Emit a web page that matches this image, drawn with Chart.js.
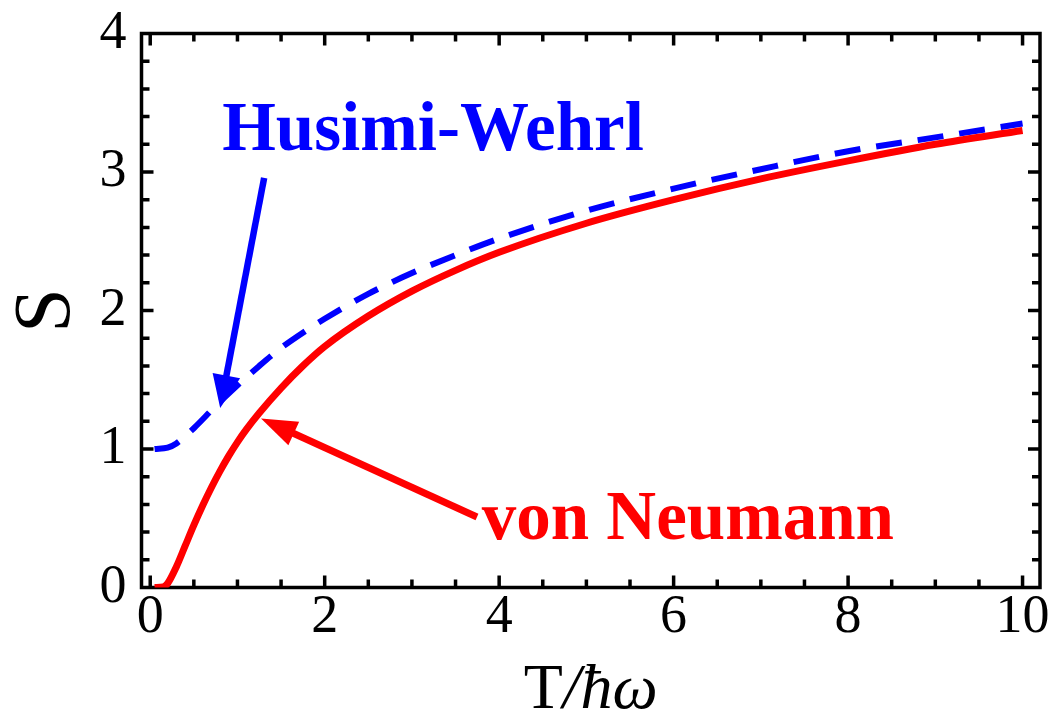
<!DOCTYPE html>
<html><head><meta charset="utf-8">
<script src="https://cdn.jsdelivr.net/npm/chart.js@4.4.1/dist/chart.umd.min.js"></script>
<style>html,body{margin:0;padding:0;background:#fff;}#wrap{width:1054px;height:716px;}</style>
</head><body><div id="wrap"><canvas id="c" width="1054" height="716"></canvas></div>
<script>
// Data
const vonNeumannT = [0.05, 0.15, 0.2, 0.3, 0.4, 0.5, 0.6, 0.7, 0.8, 0.9, 1.0, 1.1, 1.25, 1.5, 1.75, 2.0, 2.5, 3.0, 3.5, 4.0, 5.0, 6.0, 7.0, 8.0, 9.0, 10.0];
const vonNeumannS = [0.0, 0.005, 0.03, 0.15, 0.30, 0.45, 0.59, 0.72, 0.84, 0.95, 1.05, 1.14, 1.26, 1.44, 1.60, 1.74, 1.96, 2.14, 2.29, 2.42, 2.63, 2.80, 2.95, 3.08, 3.20, 3.30];
const wehrlT = [0.05, 0.2, 0.3, 0.5, 0.75, 1.0, 1.25, 1.5, 1.75, 2.0, 2.5, 3.0, 3.5, 4.0, 5.0, 6.0, 7.0, 8.0, 9.0, 10.0];
const wehrlS = [1.0, 1.01, 1.04, 1.15, 1.31, 1.46, 1.60, 1.73, 1.84, 1.94, 2.12, 2.27, 2.40, 2.52, 2.72, 2.88, 3.02, 3.15, 3.25, 3.35];
const xTickLabels = [0, 2, 4, 6, 8, 10];
const yTickLabels = [0, 1, 2, 3, 4];
const xMinorStep = 0.5;
const yMinorStep = 0.2;

const SERIF = "'Liberation Serif', 'DejaVu Serif', serif";

const framePlugin = {
  id: 'frame',
  beforeDatasetsDraw(chart) {
    const {ctx, chartArea: a, scales: {x, y}} = chart;
    ctx.save();
    ctx.strokeStyle = '#000';
    ctx.lineWidth = 3.5;
    ctx.lineCap = 'butt';
    ctx.strokeRect(a.left, a.top, a.right - a.left, a.bottom - a.top);
    const isMajor = (v, arr) => arr.some(m => Math.abs(m - v) < 1e-6);
    for (let i = 0; i <= Math.round(10 / xMinorStep); i++) {
      const v = i * xMinorStep;
      const px = x.getPixelForValue(v);
      const len = isMajor(v, xTickLabels) ? 12 : 8;
      ctx.beginPath();
      ctx.moveTo(px, a.bottom); ctx.lineTo(px, a.bottom - len);
      ctx.moveTo(px, a.top); ctx.lineTo(px, a.top + len);
      ctx.stroke();
    }
    for (let i = 1; i < Math.round(4 / yMinorStep); i++) {
      const v = i * yMinorStep;
      const py = y.getPixelForValue(v);
      const len = isMajor(v, yTickLabels) ? 12 : 8;
      ctx.beginPath();
      ctx.moveTo(a.left, py); ctx.lineTo(a.left + len, py);
      ctx.moveTo(a.right, py); ctx.lineTo(a.right - len, py);
      ctx.stroke();
    }
    ctx.restore();
  }
};

function drawArrow(ctx, x1, y1, x2, y2, color, w, headLen, headHalf) {
  const dx = x2 - x1, dy = y2 - y1, L = Math.hypot(dx, dy), ux = dx / L, uy = dy / L;
  const bx = x2 - ux * headLen, by = y2 - uy * headLen;
  ctx.strokeStyle = color; ctx.lineWidth = w; ctx.lineCap = 'butt';
  ctx.beginPath(); ctx.moveTo(x1, y1); ctx.lineTo(bx + ux * 3, by + uy * 3); ctx.stroke();
  ctx.fillStyle = color;
  ctx.beginPath();
  ctx.moveTo(x2, y2);
  ctx.lineTo(bx - uy * headHalf, by + ux * headHalf);
  ctx.lineTo(bx + uy * headHalf, by - ux * headHalf);
  ctx.closePath(); ctx.fill();
}

const annotPlugin = {
  id: 'annot',
  afterDraw(chart) {
    const {ctx, chartArea: a, scales: {x, y}} = chart;
    const P = (vx, vy) => [x.getPixelForValue(vx), y.getPixelForValue(vy)];
    ctx.save();
    ctx.font = "bold 69px " + SERIF;
    ctx.textBaseline = 'alphabetic';
    ctx.textAlign = 'left';
    ctx.fillStyle = '#0000ff';
    let p = P(0.825, 3.159);
    ctx.fillText('Husimi-Wehrl', p[0], p[1]);
    ctx.fillStyle = '#ff0000';
    p = P(3.80, 0.350);
    ctx.fillText('von Neumann', p[0], p[1]);
    let s = P(1.306, 2.957), t = P(0.802, 1.296);
    drawArrow(ctx, s[0], s[1], t[0], t[1], '#0000ff', 6.5, 33, 14);
    s = P(3.746, 0.509); t = P(1.27, 1.22);
    drawArrow(ctx, s[0], s[1], t[0], t[1], '#ff0000', 7, 36, 13);
    const cx = (a.left + a.right) / 2;
    const f1 = "64px " + SERIF, f2 = "italic 64px " + SERIF;
    ctx.font = f1; const w1 = ctx.measureText('T').width;
    ctx.font = f2; const w2 = ctx.measureText('/ħω').width;
    const x0 = cx - (w1 + w2) / 2;
    ctx.fillStyle = '#000';
    ctx.font = f1; ctx.fillText('T', x0, 708);
    ctx.font = f2; ctx.fillText('/ħω', x0 + w1, 708);
    ctx.restore();
  }
};

const tickFont = {family: SERIF, size: 54};

new Chart(document.getElementById('c'), {
  type: 'line',
  data: {
    datasets: [
      {
        label: 'von Neumann',
        data: vonNeumannT.map((t, i) => ({x: t, y: vonNeumannS[i]})),
        borderColor: '#ff0000', borderWidth: 7, pointRadius: 0,
        cubicInterpolationMode: 'monotone', fill: false
      },
      {
        label: 'Husimi-Wehrl',
        data: wehrlT.map((t, i) => ({x: t, y: wehrlS[i]})),
        borderColor: '#0000ff', borderWidth: 6, pointRadius: 0,
        borderDash: [26, 16], borderCapStyle: 'butt',
        cubicInterpolationMode: 'monotone', fill: false
      }
    ]
  },
  options: {
    responsive: false,
    devicePixelRatio: 1,
    animation: false,
    layout: {padding: {top: 33.5, right: 14, left: 0, bottom: 0}},
    plugins: {legend: {display: false}, tooltip: {enabled: false}},
    scales: {
      x: {
        type: 'linear', min: -0.1, max: 10.2,
        afterBuildTicks: s => { s.ticks = xTickLabels.map(v => ({value: v})); },
        afterFit: s => { s.height = 716 - 587.5; s.paddingLeft = 0; s.paddingRight = 0; },
        grid: {display: false, drawTicks: false},
        border: {display: false},
        ticks: {font: tickFont, color: '#000', padding: -2, maxRotation: 0, autoSkip: false}
      },
      y: {
        type: 'linear', min: 0, max: 4,
        afterBuildTicks: s => { s.ticks = yTickLabels.map(v => ({value: v})); },
        afterFit: s => { s.width = 141.5; s.paddingTop = 0; s.paddingBottom = 0; },
        grid: {display: false, drawTicks: false},
        border: {display: false},
        ticks: {font: tickFont, color: '#000', padding: 15, autoSkip: false},
        title: {display: true, text: 'S', color: '#000', font: {family: SERIF, size: 80}, padding: {top: 0, bottom: 0}}
      }
    }
  },
  plugins: [framePlugin, annotPlugin]
});
</script>
</body></html>
